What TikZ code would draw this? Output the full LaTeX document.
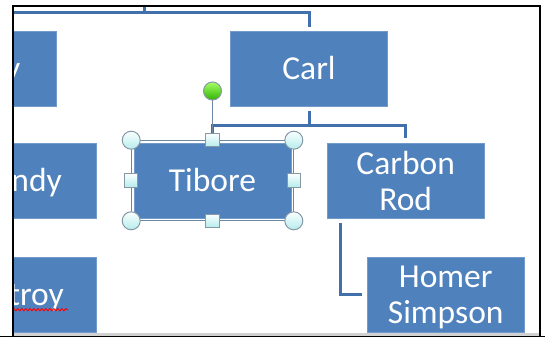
\documentclass[tikz,border=0pt]{standalone}
\usepackage{fontspec}
\setmainfont{Carlito}
\usetikzlibrary{decorations.pathmorphing,calc}
\definecolor{boxblue}{HTML}{4F81BD}
\definecolor{linkblue}{HTML}{4170AC}
\definecolor{handleedge}{HTML}{8797A6}
\definecolor{framegray}{HTML}{6D88A5}
\begin{document}
\begin{tikzpicture}[x=1pt,y=-1pt,
  boxfont/.style={font=\fontsize{33.5pt}{36pt}\selectfont},
  box/.style={boxfont, draw=boxblue!80!white, line width=0.6pt, fill=boxblue,
    minimum width=157pt, minimum height=75pt, inner sep=0pt, text=white, align=center},
  oneline/.style={text height=21pt, text depth=0pt},
  lbl/.style={boxfont, inner sep=0pt, text=white, text height=21pt, text depth=0pt},
  conn/.style={draw=linkblue, line width=3pt},
  gapped/.style={shorten <=4.5pt, shorten >=4.5pt},
  selframe/.style={draw=framegray, line width=1.1pt},
  roundhandle/.style={circle, draw=handleedge, line width=1pt, minimum size=18pt, inner sep=0pt,
    top color=white!80!cyan!10, bottom color=cyan!25!white!85!gray},
  squarehandle/.style={rectangle, draw=handleedge, line width=1pt, minimum size=13.5pt, inner sep=0pt,
    top color=white!80!cyan!10, bottom color=cyan!25!white!85!gray},
  rothandle/.style={circle, draw=handleedge, line width=1pt, minimum size=18pt, inner sep=0pt,
    top color=green!45!lime!60!white, bottom color=green!60!black!75!lime},
  rotline/.style={draw=framegray, line width=1.6pt}
]
\useasboundingbox (0,0) rectangle (545,337);

\begin{scope}
  \clip (14,7) rectangle (539.3,333);

  % boxes
  \node[box] (topleft) at (-22.5,69) {};
  \node[lbl, anchor=east] (topleftname) at (20.5,69) {y};
  \node[box, oneline] (carl) at (309,69) {Carl};
  \node[box] (andy) at (17.5,180.5) {};
  \node[lbl, anchor=east] (andyname) at (62,180.5) {ndy};
  \node[box, oneline] (tibore) at (212.5,180.5) {Tibore};
  \node[box] (carbon) at (405.7,180.5) {Carbon\\Rod};
  \node[box] (troybox) at (18,294.5) {};
  \node[lbl, anchor=east] (troyname) at (64,294.5) {troy};
  \node[box] (homer) at (445.7,294.5) {Homer\\\smash{Simpson}};

  % spelling mark under the clipped word
  \draw[red, line width=0.9pt, decorate,
    decoration={snake, amplitude=1.2pt, segment length=4pt}]
    ([yshift=-4.5pt]troyname.south west) -- ([xshift=4pt,yshift=-4.5pt]troyname.south east);

  % connectors
  \coordinate (topup) at (144,0);
  \coordinate (topbus) at (144,12.7);
  \coordinate (topleftend) at (0,12.7);
  \coordinate (bus) at (309,125.5);
  \draw[conn] (topup) -- (topbus);
  \draw[conn, shorten >=4.5pt] (topleftend) -| (carl.north);
  \draw[conn, shorten <=4.5pt] (carl.south) -- (bus);
  \draw[conn, shorten >=4.5pt] (bus) -| (tibore.north);
  \draw[conn, shorten >=4.5pt] (bus) -| (carbon.north);
  \draw[conn, gapped] ([xshift=13.7pt]carbon.south west) |- (homer.west);

  % selection frame and handles
  \coordinate (fnw) at ([shift={(-2.5pt,2.5pt)}]tibore.north west);
  \coordinate (fse) at ([shift={(2.5pt,-2.5pt)}]tibore.south east);
  \coordinate (fn) at (fnw -| tibore.north);
  \coordinate (rotc) at (212.5,91);
  \draw[selframe] (fnw) rectangle (fse);
  \draw[rotline] (rotc) -- (fn);
  \node[rothandle] (rot) at (rotc) {};
  \node[squarehandle] (hn) at (fn) {};
  \node[squarehandle] (hs) at (fse -| tibore.south) {};
  \node[squarehandle] (hw) at (fnw |- tibore.west) {};
  \node[squarehandle] (he) at (fse |- tibore.east) {};
  \node[roundhandle] (hnw) at (fnw) {};
  \node[roundhandle] (hse) at (fse) {};
  \node[roundhandle] (hne) at (fse |- fnw) {};
  \node[roundhandle] (hsw) at (fnw |- fse) {};
\end{scope}

% window edges
\fill[black!18] (14,333) rectangle (539.3,335.6);
\draw[black, line width=1.4pt] (0,336.4) -- (545,336.4);
\draw[black, line width=1.8pt] (13.2,337) -- (13.2,6.2) -- (540.2,6.2) -- (540.2,337);
\end{tikzpicture}
\end{document}
